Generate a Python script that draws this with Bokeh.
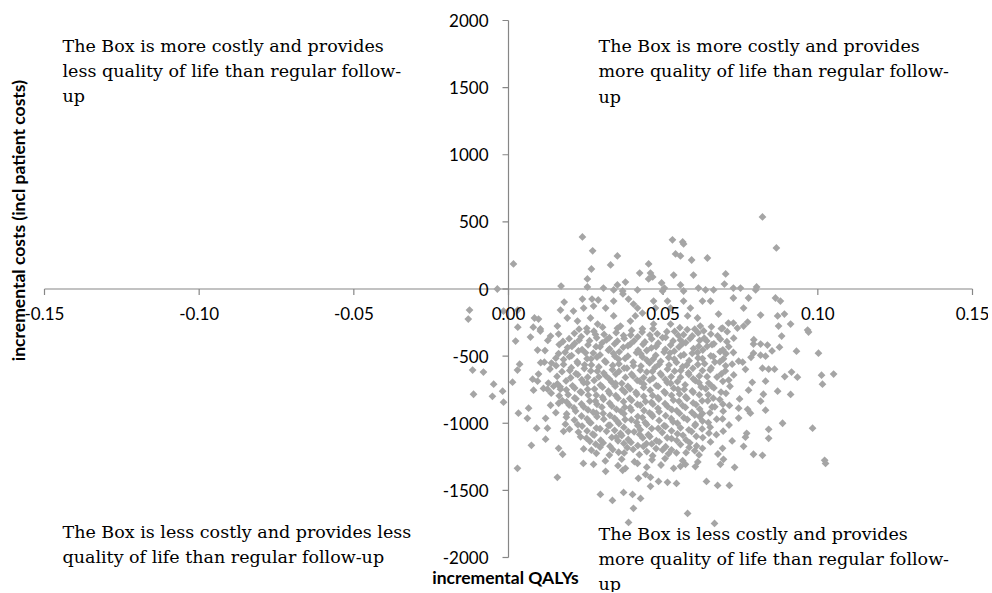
import math
from bokeh.plotting import figure
from bokeh.models import Label, LabelSet, ColumnDataSource
from bokeh.core.properties import value
from bokeh.embed import file_html
from bokeh.resources import INLINE

# ---- axis ticks ----
x_ticks = [-0.15, -0.10, -0.05, 0.0, 0.05, 0.10, 0.15]
x_tick_labels = ["-0.15", "-0.10", "-0.05", "0.00", "0.05", "0.10", "0.15"]
y_ticks = [2000, 1500, 1000, 500, 0, -500, -1000, -1500, -2000]
y_tick_labels = ["2000", "1500", "1000", "500", "0", "-500", "-1000", "-1500", "-2000"]

# ---- simulation draws (incremental QALYs, incremental costs) ----
upper_draws = [
    (0.0016, 187), (-0.0036, 0), (0.017, 22), (0.018, -97), (-0.0126, -157), (-0.013, -224),
    (-0.0016, -164), (0.003, -157), (0.0084, -216), (0.0097, -224), (0.0168, -157), (0.019, -216),
    (0.003, -284), (0.008, -284), (0.0103, -298), (0.0158, -276),
    (0.0239, 388), (0.0272, 284), (0.0352, 246), (0.033, 179), (0.0268, 149), (0.0255, 75),
    (0.0255, 15), (0.053, 366), (0.0563, 351), (0.0566, 336), (0.054, 261), (0.0556, 246),
    (0.0592, 216), (0.0643, 231), (0.0453, 187), (0.0424, 119), (0.0459, 119), (0.0453, 75),
    (0.0466, 90), (0.0534, 104), (0.0598, 104), (0.0378, 52), (0.0352, 30), (0.0307, 7),
    (0.0495, 45), (0.0504, 7), (0.0566, -15), (0.0556, 30), (0.0417, -7), (0.0369, -15),
    (0.034, -7), (0.0498, -15), (0.0614, 7), (0.0637, -7),
    (0.0239, -75), (0.027, -75), (0.029, -82), (0.0243, -142), (0.0275, -127), (0.0314, -142),
    (0.034, -90), (0.037, -37), (0.0388, -75), (0.0404, -112), (0.0417, -142), (0.0433, -179),
    (0.041, -201), (0.0469, -90), (0.0475, -142), (0.0514, -90), (0.0524, -142), (0.0566, -90),
    (0.0588, -142), (0.0627, -90), (0.021, -164), (0.0223, -239), (0.0265, -216), (0.0288, -261),
    (0.034, -201), (0.0362, -276), (0.0394, -239), (0.0579, -201), (0.0611, -216), (0.062, -276),
    (0.0524, -261), (0.0469, -261),
    (0.0821, 537), (0.0866, 306), (0.0702, 112), (0.0698, 37), (0.0727, 7), (0.075, 7),
    (0.0802, 15), (0.0663, -7), (0.0799, -7), (0.0727, -67), (0.0776, -67), (0.0863, -67),
    (0.0879, -90), (0.076, -142), (0.0815, -194), (0.087, -201), (0.0892, -187), (0.0912, -261),
    (0.0873, -276), (0.0679, -187), (0.0711, -254), (0.0727, -254), (0.0773, -246), (0.074, -291),
    (0.076, -276), (0.0692, -291), (0.0967, -306), (0.0653, -90),
]

left_draws = [
    (0.0023, -388), (0.0071, -358), (0.0103, -313), (0.0136, -351), (0.0162, -336), (0.0094, -455),
    (0.0116, -545), (0.0139, -552), (-0.0116, -604), (-0.0081, -619), (0.0036, -560), (0.0029, -604),
    (0.0097, -634), (-0.0048, -709), (0.0013, -694), (0.0078, -672), (0.0094, -687), (-0.0019, -761),
    (-0.0113, -784), (-0.0052, -799), (-0.0016, -843), (0.0081, -754), (0.0129, -701), (0.0146, -724),
    (0.0126, -746), (0.0168, -746), (0.0136, -866), (0.0162, -851), (0.0032, -925), (0.0065, -888),
    (0.0061, -963), (0.0091, -1037), (0.012, -963), (0.0126, -1037), (0.012, -1119), (0.0074, -1164),
    (0.0162, -1187), (0.0184, -1007), (0.0178, -1060), (0.0175, -1231),
]

right_draws = [
    (0.0883, -351), (0.097, -321), (0.0792, -410), (0.0815, -410), (0.0837, -418), (0.0876, -433),
    (0.0931, -463), (0.1002, -478), (0.0792, -478), (0.0815, -493), (0.0831, -500), (0.0757, -545),
    (0.0744, -538), (0.0821, -590), (0.0841, -597), (0.086, -597), (0.0915, -619), (0.0934, -657),
    (0.1012, -642), (0.1051, -634), (0.1015, -709), (0.0831, -687), (0.087, -761), (0.0776, -754),
    (0.0824, -784), (0.0815, -836), (0.0744, -888), (0.0773, -896), (0.0782, -925), (0.0831, -903),
    (0.0886, -1000), (0.0841, -1045), (0.0983, -1037), (0.077, -1075), (0.0766, -1104), (0.0841, -1112),
    (0.076, -1172), (0.0692, -1187), (0.0792, -1231), (0.0821, -1239), (0.1022, -1276), (0.0695, -1269),
]

bottom_draws = [
    (0.0029, -1336), (0.0158, -1403), (0.0388, -1739), (0.0579, -1672), (0.0404, -1634), (0.0427, -1560),
    (0.0401, -1530), (0.0372, -1515), (0.0336, -1575), (0.0297, -1530), (0.0314, -1358), (0.0369, -1351),
    (0.0378, -1336), (0.0417, -1299), (0.0275, -1306), (0.0242, -1299), (0.042, -1410), (0.0443, -1381),
    (0.0459, -1403), (0.0459, -1470), (0.0485, -1433), (0.0514, -1440), (0.0543, -1448), (0.0534, -1336),
    (0.0556, -1321), (0.0572, -1306), (0.064, -1433), (0.0685, -1306), (0.0731, -1328), (0.0676, -1463),
    (0.0714, -1463), (0.0666, -1746), (0.1025, -1299),
]

core_draws_top = [
    (0.0253, -293), (0.0304, -284), (0.0433, -297), (0.0554, -288), (0.0602, -299), (0.0656, -282),
    (0.0213, -330), (0.0254, -319), (0.0309, -338), (0.0348, -325), (0.0395, -343), (0.0432, -321),
    (0.0481, -334), (0.0537, -316), (0.0566, -340), (0.0613, -327), (0.0654, -336), (0.0707, -318),
    (0.0127, -383), (0.0196, -370), (0.0228, -381), (0.0285, -364), (0.0317, -379), (0.0374, -368),
    (0.0406, -386), (0.0463, -372), (0.0498, -362), (0.0556, -380), (0.0587, -369), (0.0641, -387),
    (0.0685, -374), (0.0728, -366), (0.0793, -378),
    (0.0164, -414), (0.0205, -428), (0.0257, -417), (0.0296, -431), (0.0343, -409), (0.0386, -423),
    (0.0435, -412), (0.0477, -429), (0.0524, -418), (0.0563, -406), (0.0615, -426), (0.0658, -415),
    (0.0712, -430),
    (0.0118, -459), (0.0183, -472), (0.0226, -461), (0.0274, -477), (0.0323, -456), (0.0358, -468),
    (0.0414, -474), (0.0447, -458), (0.0503, -470), (0.0536, -463), (0.0594, -479), (0.0628, -455),
    (0.0684, -467), (0.0727, -473), (0.0852, -461),
    (0.0153, -515), (0.0197, -504), (0.0254, -519), (0.0286, -508), (0.0344, -501), (0.0377, -517),
    (0.0433, -506), (0.0468, -522), (0.0518, -511), (0.0557, -498), (0.0613, -514), (0.0662, -503),
    (0.0695, -520), (0.0784, -509),
    (0.0104, -549), (0.0178, -562), (0.0224, -553), (0.0268, -566), (0.0315, -545), (0.0357, -558),
    (0.0404, -571), (0.0456, -551), (0.0487, -561), (0.0543, -547), (0.0576, -567), (0.0634, -556),
    (0.0667, -544), (0.0723, -560),
]

core_draws_mid = [
    (0.0134, -596), (0.0198, -607), (0.0245, -593), (0.0287, -612), (0.0336, -601), (0.0374, -589),
    (0.0426, -605), (0.0465, -614), (0.0514, -597), (0.0557, -608), (0.0596, -591), (0.0652, -603),
    (0.0701, -610), (0.0766, -598),
    (0.0157, -651), (0.0224, -638), (0.0256, -657), (0.0314, -646), (0.0347, -634), (0.0403, -649),
    (0.0437, -660), (0.0494, -641), (0.0526, -653), (0.0583, -637), (0.0617, -648), (0.0674, -656),
    (0.0728, -640), (0.0893, -652),
    (0.0186, -685), (0.0243, -698), (0.0277, -681), (0.0334, -694), (0.0366, -703), (0.0424, -687),
    (0.0457, -679), (0.0513, -697), (0.0546, -690), (0.0604, -683), (0.0647, -701), (0.0693, -688),
    (0.0788, -695),
    (0.0113, -741), (0.0167, -729), (0.0214, -738), (0.0256, -747), (0.0304, -731), (0.0345, -724),
    (0.0393, -744), (0.0437, -733), (0.0484, -726), (0.0534, -739), (0.0568, -748), (0.0623, -730),
    (0.0664, -737), (0.0716, -725),
    (0.0138, -776), (0.0193, -787), (0.0236, -771), (0.0284, -791), (0.0327, -779), (0.0376, -768),
    (0.0415, -784), (0.0466, -793), (0.0507, -775), (0.0553, -782), (0.0597, -770), (0.0646, -788),
    (0.0703, -777), (0.0912, -785),
    (0.0174, -831), (0.0218, -818), (0.0263, -836), (0.0307, -822), (0.0354, -813), (0.0398, -829),
    (0.0443, -838), (0.0486, -820), (0.0533, -827), (0.0577, -815), (0.0626, -833), (0.0683, -824),
    (0.0747, -819),
    (0.0196, -864), (0.0243, -877), (0.0286, -859), (0.0334, -872), (0.0376, -881), (0.0426, -866),
    (0.0467, -858), (0.0514, -875), (0.0563, -868), (0.0606, -861), (0.0658, -879), (0.0714, -867),
]

core_draws_low = [
    (0.0153, -921), (0.0217, -909), (0.0274, -918), (0.0306, -927), (0.0364, -912), (0.0397, -903),
    (0.0456, -923), (0.0487, -914), (0.0544, -906), (0.0593, -919), (0.0627, -928), (0.0694, -910),
    (0.0187, -955), (0.0254, -967), (0.0286, -951), (0.0343, -963), (0.0377, -972), (0.0433, -958),
    (0.0466, -948), (0.0526, -966), (0.0567, -959), (0.0618, -952), (0.0673, -970), (0.0744, -961),
    (0.0224, -1011), (0.0266, -998), (0.0323, -1016), (0.0357, -1002), (0.0414, -993), (0.0447, -1009),
    (0.0503, -1018), (0.0546, -1000), (0.0604, -1007), (0.0646, -995), (0.0713, -1013),
    (0.0197, -1044), (0.0254, -1057), (0.0296, -1041), (0.0343, -1053), (0.0387, -1062), (0.0426, -1048),
    (0.0484, -1039), (0.0527, -1056), (0.0583, -1049), (0.0626, -1042), (0.0694, -1059),
    (0.0233, -1101), (0.0277, -1088), (0.0334, -1106), (0.0366, -1092), (0.0424, -1083), (0.0457, -1099),
    (0.0513, -1108), (0.0564, -1090), (0.0607, -1097), (0.0672, -1085),
    (0.0263, -1134), (0.0306, -1147), (0.0354, -1131), (0.0396, -1143), (0.0446, -1152), (0.0487, -1138),
    (0.0544, -1129), (0.0586, -1146), (0.0653, -1139), (0.0723, -1132),
    (0.0243, -1191), (0.0296, -1178), (0.0337, -1196), (0.0384, -1182), (0.0436, -1173), (0.0477, -1189),
    (0.0527, -1198), (0.0584, -1180), (0.0627, -1187),
    (0.0284, -1224), (0.0326, -1237), (0.0374, -1221), (0.0423, -1233), (0.0466, -1242), (0.0517, -1228),
    (0.0574, -1219), (0.0616, -1236), (0.0677, -1229),
    (0.0313, -1281), (0.0366, -1268), (0.0407, -1286), (0.0464, -1272), (0.0506, -1263), (0.0563, -1279),
    (0.0612, -1288),
    (0.0354, -1316), (0.0447, -1327), (0.0493, -1311), (0.0604, -1323),
]

core_fill_upper = [
    (0.0228, -299), (0.0276, -314), (0.0352, -293), (0.0398, -309), (0.0467, -297), (0.0512, -318),
    (0.0578, -302), (0.0631, -312), (0.0688, -295),
    (0.0235, -354), (0.0281, -338), (0.0326, -363), (0.0372, -347), (0.0418, -356), (0.0457, -343),
    (0.0508, -361), (0.0549, -346), (0.0594, -350), (0.0633, -366), (0.0676, -349),
    (0.0176, -391), (0.0214, -406), (0.0262, -385), (0.0303, -401), (0.0352, -389), (0.0394, -410),
    (0.0441, -394), (0.0484, -404), (0.0532, -387), (0.0573, -399), (0.0618, -383), (0.0664, -408),
    (0.0706, -392),
    (0.0191, -436), (0.0238, -451), (0.0283, -430), (0.0327, -446), (0.0371, -434), (0.0419, -455),
    (0.0462, -439), (0.0507, -449), (0.0551, -432), (0.0598, -444), (0.0642, -428), (0.0693, -453),
    (0.0162, -481), (0.0204, -496), (0.0249, -475), (0.0296, -491), (0.0339, -479), (0.0386, -500),
    (0.0428, -484), (0.0476, -494), (0.0522, -477), (0.0567, -489), (0.0611, -473), (0.0654, -498),
    (0.0703, -482),
    (0.0178, -526), (0.0222, -541), (0.0267, -520), (0.0311, -536), (0.0356, -524), (0.0403, -545),
    (0.0447, -529), (0.0492, -539), (0.0536, -522), (0.0584, -534), (0.0627, -518), (0.0683, -543),
    (0.0154, -571), (0.0203, -586), (0.0246, -565), (0.0292, -581), (0.0337, -569), (0.0383, -590),
    (0.0428, -574), (0.0474, -584), (0.0519, -567), (0.0563, -579), (0.0612, -563), (0.0655, -588),
    (0.0702, -572),
]

core_fill_middle = [
    (0.0173, -616), (0.0218, -631), (0.0266, -610), (0.0308, -626), (0.0357, -614), (0.0398, -635),
    (0.0447, -619), (0.0491, -629), (0.0537, -612), (0.0582, -624), (0.0627, -608), (0.0688, -633),
    (0.0201, -661), (0.0237, -676), (0.0292, -655), (0.0326, -671), (0.0378, -659), (0.0416, -680),
    (0.0467, -664), (0.0507, -674), (0.0556, -657), (0.0597, -669), (0.0642, -653), (0.0712, -678),
    (0.0158, -706), (0.0207, -721), (0.0254, -700), (0.0297, -716), (0.0346, -704), (0.0386, -725),
    (0.0437, -709), (0.0478, -719), (0.0524, -702), (0.0571, -714), (0.0616, -698), (0.0657, -723),
    (0.0187, -751), (0.0232, -766), (0.0278, -745), (0.0323, -761), (0.0368, -749), (0.0412, -770),
    (0.0458, -754), (0.0503, -764), (0.0548, -747), (0.0594, -759), (0.0638, -743), (0.0687, -768),
    (0.0164, -796), (0.0214, -811), (0.0258, -790), (0.0304, -806), (0.0347, -794), (0.0392, -815),
    (0.0437, -799), (0.0483, -809), (0.0527, -792), (0.0573, -804), (0.0617, -788), (0.0662, -813),
    (0.0188, -841), (0.0236, -856), (0.0281, -835), (0.0327, -851), (0.0372, -839), (0.0417, -860),
    (0.0462, -844), (0.0506, -854), (0.0551, -837), (0.0597, -849), (0.0644, -833), (0.0693, -858),
]

core_fill_lower = [
    (0.0212, -886), (0.0257, -901), (0.0302, -880), (0.0349, -896), (0.0393, -884), (0.0438, -905),
    (0.0483, -889), (0.0528, -899), (0.0572, -882), (0.0618, -894), (0.0667, -878),
    (0.0188, -931), (0.0236, -946), (0.0284, -925), (0.0328, -941), (0.0373, -929), (0.0418, -950),
    (0.0463, -934), (0.0508, -944), (0.0553, -927), (0.0602, -939), (0.0651, -923),
    (0.0213, -976), (0.0262, -991), (0.0308, -970), (0.0352, -986), (0.0397, -974), (0.0442, -995),
    (0.0487, -979), (0.0532, -989), (0.0578, -972), (0.0627, -984), (0.0692, -968),
    (0.0238, -1021), (0.0284, -1036), (0.0328, -1015), (0.0373, -1031), (0.0418, -1019), (0.0463, -1040),
    (0.0508, -1024), (0.0556, -1034), (0.0603, -1017), (0.0652, -1029),
    (0.0226, -1066), (0.0272, -1081), (0.0317, -1060), (0.0362, -1076), (0.0406, -1064), (0.0452, -1085),
    (0.0497, -1069), (0.0546, -1079), (0.0592, -1062), (0.0648, -1074),
    (0.0252, -1111), (0.0298, -1126), (0.0348, -1105), (0.0387, -1121), (0.0434, -1109), (0.0478, -1130),
    (0.0527, -1114), (0.0574, -1124), (0.0628, -1107),
    (0.0282, -1156), (0.0328, -1171), (0.0373, -1150), (0.0418, -1166), (0.0463, -1154), (0.0508, -1175),
    (0.0556, -1159), (0.0608, -1169),
    (0.0268, -1201), (0.0356, -1216), (0.0403, -1195), (0.0447, -1211), (0.0498, -1199), (0.0543, -1220),
    (0.0602, -1204),
]

draws = (upper_draws + left_draws + right_draws + bottom_draws + core_draws_top + core_draws_mid
         + core_draws_low + core_fill_upper + core_fill_middle + core_fill_lower)
qaly = [d[0] for d in draws]
cost = [d[1] for d in draws]

# ---- quadrant captions ----
caption_tl = ["The Box is more costly and provides", "less quality of life than regular follow-", "up"]
caption_tr = ["The Box is more costly and provides", "more quality of life than regular follow-", "up"]
caption_bl = ["The Box is less costly and provides less", "quality of life than regular follow-up"]
caption_br = ["The Box is less costly and provides", "more quality of life than regular follow-", "up"]

# ---- layout: plot area -0.15..0.15 spans px 44..972, 2000..-2000 spans px 20..557 ----
W, H = 988, 592
L_PX, R_PX, T_PX, B_PX = 44.0, 972.0, 20.0, 557.0
XMIN, XMAX, YMIN, YMAX = -0.15, 0.15, -2000.0, 2000.0
PX_X = (XMAX - XMIN) / (R_PX - L_PX)
PX_Y = (YMAX - YMIN) / (B_PX - T_PX)


def dx(px):
    return XMIN + (px - L_PX) * PX_X


def dy(py):
    return YMAX - (py - T_PX) * PX_Y


AXIS = "#868686"

p = figure(width=W, height=H, x_range=(dx(0), dx(W)), y_range=(dy(H), dy(0)),
           x_axis_type=None, y_axis_type=None, output_backend="svg", toolbar_location=None,
           min_border=0, min_border_left=0, min_border_right=0, min_border_top=0, min_border_bottom=0)
p.outline_line_color = None
p.background_fill_color = "white"
p.border_fill_color = "white"

# axes through origin
p.segment(x0=[XMIN, 0], y0=[0, YMIN], x1=[XMAX, 0], y1=[0, YMAX], line_color=AXIS, line_width=1.2)
p.segment(x0=x_ticks, y0=[0] * len(x_ticks), x1=x_ticks, y1=[-6 * PX_Y] * len(x_ticks),
          line_color=AXIS, line_width=1.2)
p.segment(x0=[-6 * PX_X] * len(y_ticks), y0=y_ticks, x1=[0] * len(y_ticks), y1=y_ticks,
          line_color=AXIS, line_width=1.2)

xsrc = ColumnDataSource(dict(x=x_ticks, t=x_tick_labels))
ysrc = ColumnDataSource(dict(y=y_ticks, t=y_tick_labels))
p.add_layout(LabelSet(x="x", y=-24 * PX_Y, text="t", source=xsrc, text_align="center",
                      text_baseline="middle", text_font=value("Lato"), text_font_size="17px",
                      text_color="black"))
p.add_layout(LabelSet(x=-20 * PX_X, y="y", text="t", source=ysrc, text_align="right",
                      text_baseline="middle", text_font=value("Lato"), text_font_size="17px",
                      text_color="black"))

# scatter
src = ColumnDataSource(dict(qaly=qaly, cost=cost))
p.scatter(x="qaly", y="cost", source=src, marker="square", size=5.5, angle=math.pi / 4,
          fill_color="#a5a5a5", line_color=None)

# axis titles
p.add_layout(Label(x=dx(505), y=dy(577), text="incremental QALYs", text_align="center",
                   text_baseline="middle", text_font="Lato", text_font_style="bold",
                   text_font_size="17.5px", text_color="black"))
p.add_layout(Label(x=dx(18), y=dy(218), text="incremental costs (incl  patient costs)",
                   angle=math.pi / 2, text_align="center", text_baseline="middle", text_font="Lato",
                   text_font_style="bold", text_font_size="17.5px", text_color="black"))


# quadrant captions
def caption(lines, x_px, y_px_list):
    for line, ypx in zip(lines, y_px_list):
        p.add_layout(Label(x=dx(x_px), y=dy(ypx), text=line, text_align="left",
                           text_baseline="middle", text_font="DejaVu Serif",
                           text_font_size="17.5px", text_color="black"))


caption(caption_tl, 62, [45, 70, 95])
caption(caption_tr, 598, [45, 70, 96])
caption(caption_bl, 62, [531, 556])
caption(caption_br, 598, [533, 558, 583])

open("out.html", "w").write(file_html(p, INLINE))
